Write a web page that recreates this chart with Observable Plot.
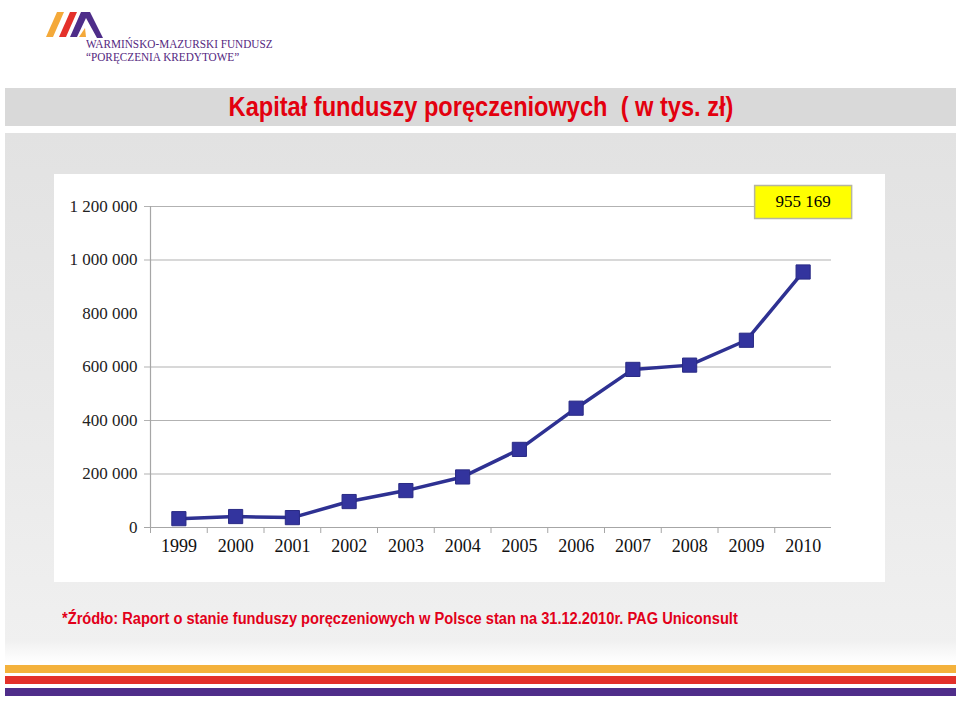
<!DOCTYPE html>
<html>
<head>
<meta charset="utf-8">
<script src="https://cdn.jsdelivr.net/npm/d3@7"></script>
<script src="https://cdn.jsdelivr.net/npm/@observablehq/plot@0.6"></script>
<style>
  html, body { margin: 0; padding: 0; background: #fff; }
  #page { position: relative; width: 960px; height: 701px; overflow: hidden; background: #fff; }
  .abs { position: absolute; }
  .narrow { font-family: "Liberation Sans Narrow", "Arial Narrow", "Liberation Sans", Arial, sans-serif; font-weight: bold; }
  #title { left: 5px; top: 88px; width: 951px; height: 38px; background: #d9d9d9; }
  #title span { position: absolute; left: 50%; top: 0; color: #e3000f; font-size: 27px; line-height: 38px;
                white-space: pre; transform: translateX(-50%) scaleX(0.874); transform-origin: center; }
  #panel { left: 5px; top: 133px; width: 951px; height: 512px; background: linear-gradient(#e2e2e2, #e9e9e9 55%, #f0f0f0); }
  #fade { left: 5px; top: 640px; width: 951px; height: 22px; background: linear-gradient(#f0f0f0, #ffffff); }
  #chart { left: 54px; top: 174px; width: 831px; height: 408px; background: #fff; }
  #source { left: 62px; top: 610px; color: #e2001a; font-size: 16px; white-space: pre; transform: scaleX(0.915); transform-origin: left center; }
  .stripe { left: 5px; width: 951px; }
  #logo-text { left: 86px; top: 38px; color: #55287f; font-family: "Liberation Serif", "Times New Roman", serif; font-size: 12.5px; line-height: 13px;
               transform: scaleX(0.9); transform-origin: left top; white-space: nowrap; }
</style>
</head>
<body>
<div id="page">
  <svg class="abs" style="left:0px;top:0px" width="120" height="50">
    <polygon points="46,37 53,37 64,12 57,12" fill="#f4a93a"/>
    <polygon points="59,37 66,37 77,12 70,12" fill="#e4312b"/>
    <polygon points="70,37 77,37 86,18 97,38 103,38 90,12 81,12" fill="#4e2d89"/>
    <polygon points="79,37 86,37 85,28" fill="#f4a93a"/>
  </svg>
  <div id="logo-text" class="abs">WARMIŃSKO-MAZURSKI FUNDUSZ<br>“PORĘCZENIA KREDYTOWE”</div>
  <div id="title" class="abs narrow"><span></span></div>
  <div id="panel" class="abs"></div>
  <div id="fade" class="abs"></div>
  <div id="chart" class="abs"></div>
  <div id="source" class="abs narrow"></div>
  <div class="abs stripe" style="top:665px;height:8px;background:#f4b23c"></div>
  <div class="abs stripe" style="top:676px;height:8px;background:#e3302a"></div>
  <div class="abs stripe" style="top:688px;height:8px;background:#4f2d8a"></div>
</div>
<script>
const titleText = "Kapitał funduszy poręczeniowych  ( w tys. zł)";
const sourceText = "*Źródło: Raport o stanie funduszy poręczeniowych w Polsce stan na 31.12.2010r. PAG Uniconsult";
const years = ["1999","2000","2001","2002","2003","2004","2005","2006","2007","2008","2009","2010"];
const values = [33000, 41000, 37000, 97000, 138000, 189000, 292000, 446000, 591000, 607000, 700000, 955169];
const yTicks = [0, 200000, 400000, 600000, 800000, 1000000, 1200000];
const gridTicks = [0, 200000, 400000, 600000, 1000000, 1200000];
const annotationValue = values[values.length - 1];
const annotationYear = years[years.length - 1];

document.querySelector("#title span").textContent = titleText;
document.getElementById("source").textContent = sourceText;

const fmt = d => d3.format(",")(d).replace(/,/g, " ");
const data = years.map((y, i) => ({year: y, value: values[i]}));

const W = 831, H = 408, mL = 96, mR = 54, mT = 32, mB = 55;
const step = (W - mL - mR) / years.length;

const chart = Plot.plot({
  width: W, height: H,
  marginLeft: mL, marginRight: mR, marginTop: mT, marginBottom: mB,
  style: {fontFamily: "'Liberation Serif', 'Times New Roman', serif", background: "transparent", color: "#111", overflow: "visible"},
  x: {type: "point", domain: years, padding: 0.5, round: false, label: null},
  y: {domain: [0, 1200000], label: null},
  marks: [
    Plot.ruleY(gridTicks, {stroke: "#b2b2b2", strokeWidth: 1.2, insetLeft: -6}),
    Plot.frame({anchor: "left", stroke: "#a6a6a6", strokeWidth: 1.2}),
    Plot.ruleY([0], {stroke: "#a6a6a6", strokeWidth: 1.2, insetLeft: -6}),
    Plot.axisX({tickSize: 6, tickFormat: () => "", dx: -step / 2, stroke: "#a6a6a6"}),
    Plot.axisX({tickSize: 0, tickPadding: 12, fontSize: 18, fill: "#111"}),
    Plot.axisY({ticks: yTicks, tickFormat: fmt, tickSize: 0, tickPadding: 13, fontSize: 17, fill: "#222"}),
    Plot.line(data, {x: "year", y: "value", stroke: "#2e3192", strokeWidth: 3.5}),
    Plot.dot(data, {x: "year", y: "value", symbol: "square", r: 8, fill: "#33349e", stroke: "#2a2b85", strokeWidth: 1}),
    Plot.text([annotationValue], {
      x: () => annotationYear, frameAnchor: "top", lineAnchor: "middle", dy: -4.5,
      text: d => fmt(d), fontSize: 17, fill: "#000",
      render(index, scales, values, dims, context, next) {
        const g = next(index, scales, values, dims, context);
        const cx = scales.x(annotationYear);
        const cy = dims.marginTop;
        const rect = d3.create("svg:rect")
          .attr("x", cx - 48.5).attr("y", cy - 16.5)
          .attr("width", 97).attr("height", 33)
          .attr("fill", "#ffff00").attr("stroke", "#b5b5a0").attr("stroke-width", 1.5);
        g.insertBefore(rect.node(), g.firstChild);
        return g;
      }
    })
  ]
});
document.getElementById("chart").appendChild(chart);
</script>
</body>
</html>
